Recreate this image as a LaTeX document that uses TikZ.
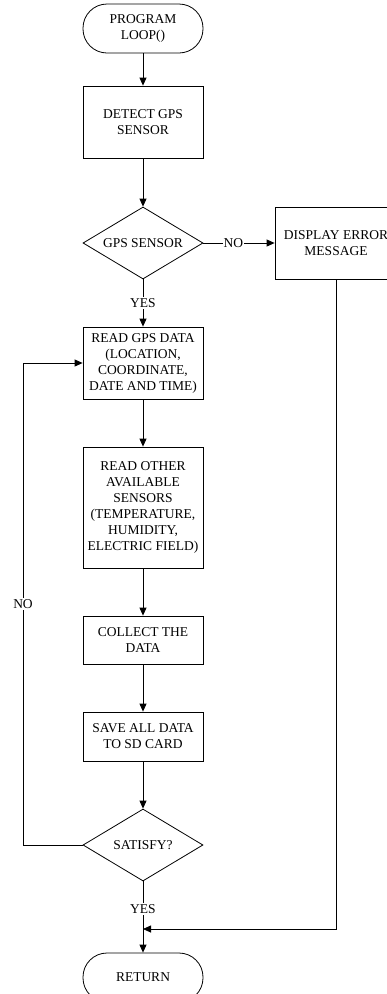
\documentclass[tikz,border=0pt]{standalone}
\usepackage{fontspec}
\setmainfont{Liberation Serif}
\usetikzlibrary{arrows.meta,shapes.geometric}
\begin{document}
\begin{tikzpicture}[x=1pt,y=-1pt,line width=.8pt,>={Triangle[length=8pt,width=7pt]},
	font=\fontsize{13.5}{16}\selectfont]
		\tikzset{box/.style={draw,rectangle,align=center,minimum width=120pt,inner sep=0pt},
			term/.style={box,rounded corners=24pt,minimum height=49pt},
			decide/.style={draw,diamond,aspect=1.69,minimum width=120pt,minimum height=72pt,inner sep=0pt,align=center},
			lbl/.style={fill=white,inner sep=1pt}}
		\useasboundingbox (0,0) rectangle (387,994);
		\node[term] (start) at (143,28.5) {PROGRAM\\LOOP()};
		\node[box,minimum height=72pt] (detect) at (143,122) {DETECT GPS\\SENSOR};
		\node[decide] (gps) at (143,243) {GPS SENSOR};
		\node[box,minimum width=122pt,minimum height=72pt] (err) at (336,243) {DISPLAY ERROR\\MESSAGE};
		\node[box,minimum height=72pt] (readgps) at (143,363) {READ GPS DATA\\(LOCATION,\\COORDINATE,\\DATE AND TIME)};
		\node[box,minimum height=121pt] (readother) at (143,507.5) {READ OTHER\\AVAILABLE\\SENSORS\\(TEMPERATURE,\\HUMIDITY,\\ELECTRIC FIELD)};
		\node[box,minimum height=48pt] (collect) at (143,640) {COLLECT THE\\DATA};
		\node[box,minimum height=49pt] (save) at (143,736.5) {SAVE ALL DATA\\TO SD CARD};
		\node[decide] (satisfy) at (143,845) {SATISFY?};
		\node[term] (ret) at (143,977.5) {RETURN};
		\coordinate (join) at (143,929);
		\coordinate (errdown) at (336,929);
		\coordinate (loopb) at (23,845);
		\coordinate (loopt) at (23,363);
		% main flow
		\draw[->] (start) -- (detect);
		\draw[->] (detect) -- (gps);
		\draw[->] (gps) -- node[lbl,pos=.42] {NO} (err);
		\draw[->] (gps) -- node[lbl] {YES} (readgps);
		\draw[->] (readgps) -- (readother);
		\draw[->] (readother) -- (collect);
		\draw[->] (collect) -- (save);
		\draw[->] (save) -- (satisfy);
		\draw (satisfy) -- node[lbl,pos=.58] {YES} (join);
		\draw[->] (join) -- (ret);
		% back loop and error path
		\draw[->] (satisfy.west) -- (loopb) -- node[lbl] {NO} (loopt) -- (readgps.west);
		\draw[->] (err.south) -- (errdown) -- (join);
\end{tikzpicture}
\end{document}
